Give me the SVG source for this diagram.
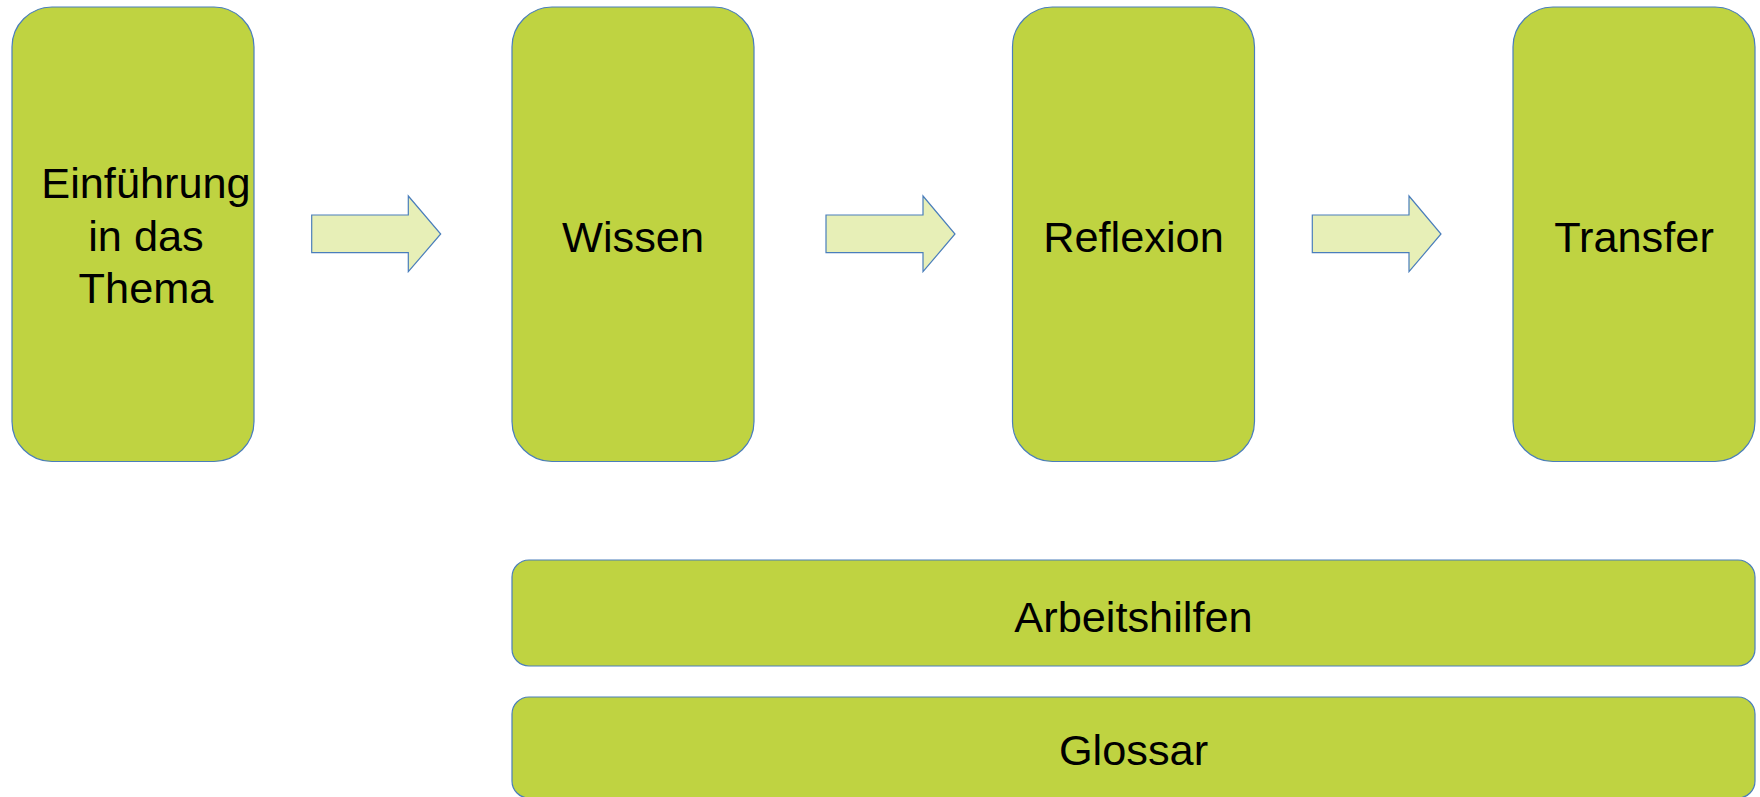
<svg xmlns="http://www.w3.org/2000/svg" width="1760" height="797" viewBox="0 0 1760 797">
<style>
.box{fill:#bfd341;stroke:#4a7ebb;stroke-width:1.2}
.arr{fill:#e7efb7;stroke:#4a7ebb;stroke-width:1.2;stroke-linejoin:miter}
.t{font-family:"Liberation Sans",Arial,sans-serif;font-size:43.3px;fill:#000;text-anchor:middle}
</style>
<rect width="1760" height="797" fill="#fff"/>
<g id="node-einfuehrung">
<rect class="box" x="12" y="7" width="242" height="454.5" rx="40" ry="40"/>
<text class="t" x="146" y="198.3">Einführung</text>
<text class="t" x="146" y="250.5">in das</text>
<text class="t" x="146" y="303.3">Thema</text>
</g>
<g id="node-wissen">
<rect class="box" x="512" y="7" width="242" height="454.5" rx="40" ry="40"/>
<text class="t" x="633" y="251.7">Wissen</text>
</g>
<g id="node-reflexion">
<rect class="box" x="1012.5" y="7" width="242" height="454.5" rx="40" ry="40"/>
<text class="t" x="1133.5" y="251.7">Reflexion</text>
</g>
<g id="node-transfer">
<rect class="box" x="1513" y="7" width="242" height="454.5" rx="40" ry="40"/>
<text class="t" x="1634" y="251.7">Transfer</text>
</g>
<g id="node-arbeitshilfen">
<rect class="box" x="512" y="560" width="1243" height="106" rx="17" ry="17"/>
<text class="t" x="1133.5" y="631.7">Arbeitshilfen</text>
</g>
<g id="node-glossar">
<rect class="box" x="512" y="697" width="1243" height="101" rx="17" ry="17"/>
<text class="t" x="1133.5" y="765">Glossar</text>
</g>
<g id="connectors">
<polygon class="arr" points="311.7,215 408.3,215 408.3,196 440.7,234 408.3,271.7 408.3,252.7 311.7,252.7"/>
<polygon class="arr" points="826,215 923,215 923,196 955,234 923,271.7 923,252.7 826,252.7"/>
<polygon class="arr" points="1312.3,215 1409,215 1409,196 1441,234 1409,271.7 1409,252.7 1312.3,252.7"/>
</g>
</svg>
